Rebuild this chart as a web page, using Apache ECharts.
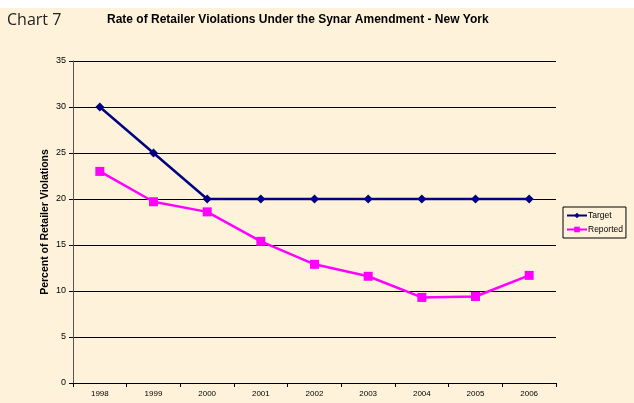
<!DOCTYPE html>
<html>
	<head>
		<meta charset="utf-8" />
		<title>Chart 7</title>
		<style type="text/css">
			html, body { margin: 0; padding: 0; background: #fff; }
			#main { width: 634px; height: 403px; }
		</style>
		<script src="https://cdn.jsdelivr.net/npm/echarts@6/dist/echarts.min.js" type="text/javascript" charset="utf-8"></script>
	</head>
	<body>
		<div id="main"></div>
		<script type="text/javascript">
			var years = ['1998','1999','2000','2001','2002','2003','2004','2005','2006'];
			var target = [30, 25, 20, 20, 20, 20, 20, 20, 20];
			var reported = [23, 19.7, 18.6, 15.4, 12.9, 11.6, 9.3, 9.4, 11.7];
			var yTicks = [0, 5, 10, 15, 20, 25, 30, 35];

			var myChart = echarts.init(document.getElementById('main'));
			var option = {
				backgroundColor: '#fef3da',
				animation: false,
				graphic: [
					// white strip at the very top
					{ type: 'rect', left: 0, top: 0, shape: { width: 634, height: 8 }, style: { fill: '#ffffff' } },
					{ type: 'text', left: 7, top: 12, style: { text: 'Chart 7', font: '16px "Open Sans"', fill: '#222' } },
					{ type: 'text', left: 107, top: 14, style: { text: 'Rate of Retailer Violations Under the Synar Amendment - New York', font: 'bold 12px "Liberation Sans"', fill: '#000' } }
				],
				grid: { left: 73, right: 78, top: 61, bottom: 20, containLabel: false },
				legend: {
					data: ['Target', 'Reported'],
					orient: 'vertical',
					left: 563,
					top: 207,
					itemWidth: 20,
					itemHeight: 7,
					itemGap: 5,
					padding: [4, 3, 4, 3],
					borderColor: '#000',
					borderWidth: 1,
					textStyle: { fontFamily: 'Liberation Sans', fontSize: 8.5, color: '#000', padding: [0, 0, 0, -4] }
				},
				xAxis: {
					type: 'category',
					data: years,
					boundaryGap: true,
					axisLine: { lineStyle: { color: '#000', width: 1 } },
					axisTick: { show: true, length: 4, lineStyle: { color: '#000' } },
					axisLabel: { fontFamily: 'Liberation Sans', fontSize: 8, color: '#000', margin: 7 }
				},
				yAxis: {
					type: 'value',
					min: 0,
					max: 35,
					interval: 5,
					name: 'Percent of Retailer Violations',
					nameLocation: 'middle',
					nameGap: 22,
					nameMoveOverlap: false,
					nameTextStyle: { fontFamily: 'Liberation Sans', fontSize: 10.5, fontWeight: 'bold', color: '#000' },
					axisLine: { show: true, lineStyle: { color: '#555', width: 1 } },
					axisTick: { show: true, length: 4, lineStyle: { color: '#000' } },
					axisLabel: {
						fontFamily: 'Liberation Sans', fontSize: 9, color: '#000', margin: 7,
						formatter: function (v) { return yTicks.indexOf(v) >= 0 ? v : ''; }
					},
					splitLine: { show: true, lineStyle: { color: '#000', width: 1 } }
				},
				series: [
					{
						name: 'Target',
						type: 'line',
						data: target,
						symbol: 'diamond',
						symbolSize: 9,
						lineStyle: { color: '#000080', width: 2.5 },
						itemStyle: { color: '#000080' }
					},
					{
						name: 'Reported',
						type: 'line',
						data: reported,
						symbol: 'rect',
						symbolSize: 9,
						lineStyle: { color: '#ff00ff', width: 2.5 },
						itemStyle: { color: '#ff00ff' }
					}
				]
			};
			myChart.setOption(option);
		</script>
	</body>
</html>
